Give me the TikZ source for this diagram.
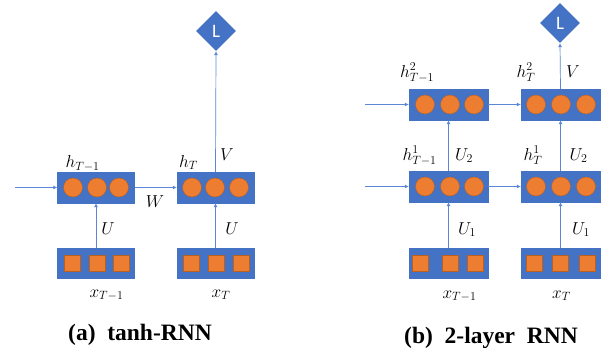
\documentclass[tikz,border=0pt]{standalone}
\usepackage{fontspec}
\newfontfamily\capfont{Liberation Serif}
\newfontfamily\lfont{Carlito}
\usetikzlibrary{shapes.geometric,arrows.meta}
\definecolor{boxblue}{HTML}{4472C4}
\definecolor{lineblue}{HTML}{5B87D6}
\definecolor{unitorange}{HTML}{ED7D31}
\definecolor{unitedge}{HTML}{B85F22}
\tikzset{
  layerbox/.style={draw=boxblue,fill=boxblue,minimum width=77pt,minimum height=31pt,inner sep=0pt},
  inbox/.style={layerbox,minimum height=30pt},
  neuron/.style={circle,draw=unitedge,line width=0.4pt,fill=unitorange,minimum size=19pt,inner sep=0pt},
  inunit/.style={rectangle,draw=unitedge,line width=0.4pt,fill=unitorange,minimum size=16pt,inner sep=0pt},
  lossnode/.style={diamond,fill=boxblue,minimum width=40pt,minimum height=40pt,inner sep=0pt,text=white,font=\lfont\fontsize{19}{21}\selectfont},
  conn/.style={draw=lineblue,line width=0.7pt,-{Latex[length=4pt,width=4pt]}},
  lab/.style={anchor=base,inner sep=0pt,font=\fontsize{18}{21}\selectfont},
  caption/.style={anchor=base,inner sep=0pt,font=\capfont\bfseries\fontsize{23.5}{27}\selectfont}
}
\begin{document}
\begin{tikzpicture}[x=1pt,y=-1pt]
\useasboundingbox (0,0) rectangle (609,356);
% ---------------- (a) ----------------
\node[layerbox] (ha1) at (96,187.5) {};
\node[layerbox] (ha2) at (215.5,187.5) {};
\node[inbox] (xa1) at (96,263) {};
\node[inbox] (xa2) at (215.5,263) {};
\foreach \i/\x in {1/73,2/97,3/119}{\node[neuron] (ha1c\i) at (\x,187.5) {};}
\foreach \i/\x in {1/192,2/215,3/239}{\node[neuron] (ha2c\i) at (\x,187.5) {};}
\foreach \i/\x in {1/72,2/97,3/121}{\node[inunit] (xa1s\i) at (\x,263) {};}
\foreach \i/\x in {1/191,2/216,3/241}{\node[inunit] (xa2s\i) at (\x,263) {};}
\node[lossnode] (La) at (216,31) {L};
\coordinate (ina) at (15,187.5);
\draw[conn] (ina) -- (ha1.west);
\draw[conn] (ha1.east) -- (ha2.west);
\draw[conn] (xa1.north) -- (ha1.south);
\draw[conn] (xa2.north) -- (ha2.south);
\draw[conn] (ha2.north) -- (La.south);
\node[lab] (lha1) at (82.5,167.5) {$h_{T-1}$};
\node[lab] (lha2) at (188.5,167) {$h_T$};
\node[lab] (lV) at (227,160) {$V$};
\node[lab] (lW) at (155,207) {$W$};
\node[lab] (lUa1) at (108,234) {$U$};
\node[lab] (lUa2) at (232,234) {$U$};
\node[lab] (lxa1) at (106.5,297) {$x_{T-1}$};
\node[lab] (lxa2) at (221,297) {$x_T$};
\node[caption] (capa) at (140,340) {(a)\ \ tanh-RNN};
% ---------------- (b) ----------------
\node[layerbox,minimum width=79pt] (hb21) at (448.5,104.5) {};
\node[layerbox,minimum width=79pt] (hb22) at (560.5,104.5) {};
\node[layerbox,minimum width=79pt] (hb11) at (448.5,186.5) {};
\node[layerbox,minimum width=79pt] (hb12) at (560.5,186.5) {};
\node[inbox,minimum width=79pt] (xb1) at (448.5,263) {};
\node[inbox,minimum width=79pt] (xb2) at (560.5,263) {};
\foreach \i/\x in {1/425,2/450,3/474}{\node[neuron] (hb21c\i) at (\x,104.5) {}; \node[neuron] (hb11c\i) at (\x,186.5) {};}
\foreach \i/\x in {1/536,2/561,3/586}{\node[neuron] (hb22c\i) at (\x,104.5) {}; \node[neuron] (hb12c\i) at (\x,186.5) {};}
\foreach \i/\x in {1/420,2/450,3/475}{\node[inunit] (xb1s\i) at (\x,263) {};}
\foreach \i/\x in {1/534,2/560,3/587}{\node[inunit] (xb2s\i) at (\x,263) {};}
\node[lossnode] (Lb) at (560,23) {L};
\coordinate (inb2) at (365,104.5);
\coordinate (inb1) at (365,186.5);
\draw[conn] (inb2) -- (hb21.west);
\draw[conn] (inb1) -- (hb11.west);
\draw[conn] (hb21.east) -- (hb22.west);
\draw[conn] (hb11.east) -- (hb12.west);
\draw[conn] (hb11.north) -- (hb21.south);
\draw[conn] (hb12.north) -- (hb22.south);
\draw[conn] (xb1.north) -- (hb11.south);
\draw[conn] (xb2.north) -- (hb12.south);
\draw[conn] (hb22.north) -- (Lb.south);
\node[lab] (lhb21) at (417,77) {$h^2_{T-1}$};
\node[lab] (lhb22) at (526,77) {$h^2_T$};
\node[lab] (lVb) at (573,77) {$V$};
\node[lab] (lhb11) at (419.5,160) {$h^1_{T-1}$};
\node[lab] (lhb12) at (533,160) {$h^1_T$};
\node[lab] (lU2a) at (464,160) {$U_2$};
\node[lab] (lU2b) at (578.5,160) {$U_2$};
\node[lab] (lU1a) at (467,234) {$U_1$};
\node[lab] (lU1b) at (581,234) {$U_1$};
\node[lab] (lxb1) at (459.5,298) {$x_{T-1}$};
\node[lab] (lxb2) at (561.5,298) {$x_T$};
\node[caption] (capb) at (491,343) {(b)\ \ 2-layer\ \ RNN};
\end{tikzpicture}
\end{document}
